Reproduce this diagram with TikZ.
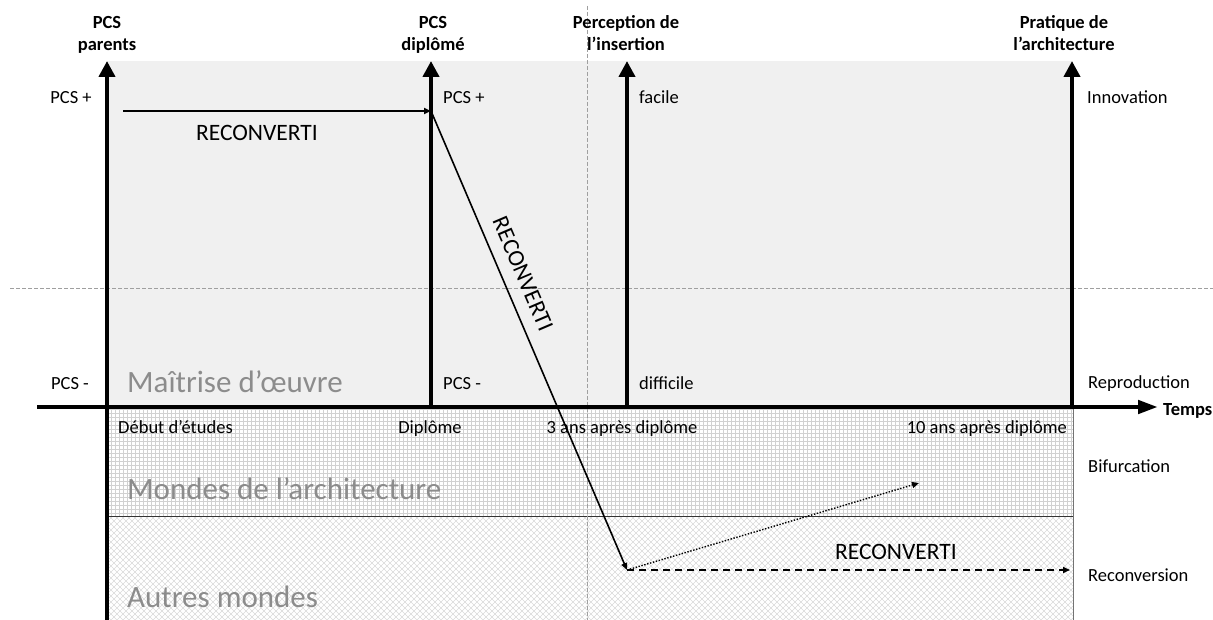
\documentclass[tikz,border=0pt]{standalone}
\usepackage{fontspec}
\setmainfont{Carlito}
\usetikzlibrary{arrows.meta}
\begin{document}
\begin{tikzpicture}[x=1pt,y=-1pt,
  lab/.style={font=\fontsize{18.5}{22}\selectfont, text=black, inner sep=0pt, anchor=base},
  head/.style={font=\fontsize{18.5}{22}\selectfont\bfseries, align=center, inner sep=0pt, anchor=base},
  big/.style={font=\fontsize{31}{36}\selectfont, text=black!45, inner sep=0pt, anchor=base west},
  rec/.style={font=\fontsize{23.5}{26}\selectfont, inner sep=0pt},
  axisline/.style={line width=4.5pt, -{Triangle[width=16pt,length=16pt]}},
  guide/.style={gray!75, dash pattern=on 4pt off 2pt, line width=0.6pt},
  trajet/.style={line width=1.6pt, -{Triangle[width=6pt,length=7pt]}}]
\useasboundingbox (0,0) rectangle (1213,620);
% zones
\fill[black!6] (107,61) rectangle (1073,407);
\begin{scope}
  \clip (107,407) rectangle (1073,516);
  \fill[white] (107,407) rectangle (1073,516);
  \foreach \x in {107,111,...,1075} \draw[black!18, line width=0.5pt] (\x,407) -- (\x,516);
  \foreach \y in {409,413,...,516} \draw[black!18, line width=0.5pt] (107,\y) -- (1073,\y);
\end{scope}
\begin{scope}
  \clip (107,516) rectangle (1073,620);
  \foreach \c in {1,7,...,1075} \draw[black!15, line width=0.5pt] (\c,516) -- (\c+104,620);
  \foreach \c in {107,113,...,1180} \draw[black!15, line width=0.5pt] (\c,516) -- (\c-104,620);
\end{scope}
\draw[black!80, line width=0.8pt] (107,516) -- (1073,516);
\draw[black!55, line width=0.8pt] (1073,407) -- (1073,620);
% guides
\draw[guide] (587,6) -- (587,620);
\draw[guide] (10,288) -- (1213,288);
% big labels
\node[big] (mo) at (127,392) {Maîtrise d’œuvre};
\node[big] (ma) at (127,499) {Mondes de l’architecture};
\node[big] (am) at (127,607) {Autres mondes};
% axes
\coordinate (o) at (107,620); \coordinate (pa) at (107,61);
\coordinate (d0) at (431,407); \coordinate (d1) at (431,61);
\coordinate (p0) at (627,407); \coordinate (p1) at (627,61);
\coordinate (a0) at (1072,407); \coordinate (a1) at (1072,61);
\coordinate (t0) at (37,407); \coordinate (t1) at (1158,407);
\draw[line width=4.5pt, -{Triangle[width=13pt,length=20pt]}] (t0) -- (t1);
\draw[axisline] (o) -- (pa);
\draw[axisline] (d0) -- (d1);
\draw[axisline] (p0) -- (p1);
\draw[axisline] (a0) -- (a1);
% headings
\node[head] (h1a) at (107,29) {PCS};
\node[head] (h1b) at (107,51) {parents};
\node[head] (h2a) at (433,29) {PCS};
\node[head] (h2b) at (433,51) {diplômé};
\node[head] (h3a) at (626,29) {Perception de};
\node[head] (h3b) at (626,51) {l’insertion};
\node[head] (h4a) at (1064,29) {Pratique de};
\node[head] (h4b) at (1064,51) {l’architecture};
\node[head, anchor=base west] (tp) at (1163,415) {Temps};
% axis labels
\node[lab] (l1) at (71,104) {PCS +};
\node[lab] (l2) at (70,389) {PCS -};
\node[lab, anchor=base west] (l3) at (443,104) {PCS +};
\node[lab, anchor=base west] (l4) at (443,389) {PCS -};
\node[lab, anchor=base west] (l5) at (639,104) {facile};
\node[lab, anchor=base west] (l6) at (639,389) {difficile};
\node[lab, anchor=base west] (l7) at (1087,104) {Innovation};
\node[lab, anchor=base west] (l8) at (1088,388) {Reproduction};
\node[lab, anchor=base west] (l9) at (1088,472) {Bifurcation};
\node[lab, anchor=base west] (l10) at (1088,581) {Reconversion};
% time labels
\node[lab, anchor=base west] (t1l) at (118,433) {Début d’études};
\node[lab] (t2l) at (430,433) {Diplôme};
\node[lab] (t3l) at (622,433) {3 ans après diplôme};
\node[lab, anchor=base east] (t4l) at (1067,433) {10 ans après diplôme};
% trajectories
\coordinate (s0) at (123,111);
\coordinate (s1) at (431,111);
\coordinate (e) at (627,570);
\coordinate (b) at (919,483);
\coordinate (r) at (1070,570);
\draw[trajet] (s0) -- (s1);
\draw[trajet] (s1) -- (e);
\draw[line width=1.4pt, dash pattern=on 1.4pt off 1.6pt, -{Triangle[width=6pt,length=7pt]}] (e) -- (b);
\draw[line width=1.6pt, dash pattern=on 7pt off 5pt, -{Triangle[width=6pt,length=7pt]}] (e) -- (r);
\node[rec, anchor=base] (r1) at (257,141) {RECONVERTI};
\node[rec, rotate=-66.87] (r2) at (523,274) {RECONVERTI};
\node[rec, anchor=base] (r3) at (896,559) {RECONVERTI};
\end{tikzpicture}
\end{document}
